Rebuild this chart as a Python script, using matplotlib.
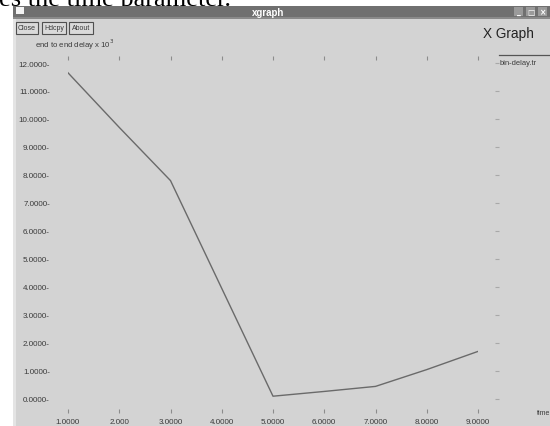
"""xgraph window: end to end delay over time for bin-delay.tr."""
import matplotlib
matplotlib.use('Agg')
import matplotlib.pyplot as plt
from matplotlib.patches import Rectangle

# delay trace (x 10^3) sampled once per time unit
time_s = [1, 2, 3, 4, 5, 6, 7, 8, 9]
delay = [11.65, 9.7, 7.8, 3.95, 0.1, 0.27, 0.45, 1.05, 1.7]

x_ticks = [1, 2, 3, 4, 5, 6, 7, 8, 9]
x_labels = ['1.0000', '2.000', '3.0000', '4.0000', '5.0000',
            '6.0000', '7.0000', '8.0000', '9.0000']
y_ticks = list(range(13))
y_labels = [f'{v:.4f}-' for v in y_ticks]

series_name = 'bin-delay.tr'
y_title = 'end to end delay x 10$^3$'
x_title = 'time'

W, H = 550, 427
WIN = '#d3d3d3'
INK = '#3a3a3a'
SANS = 'Liberation Sans'


def chrome(bg):
    """Window decorations drawn in pixel coordinates (y grows downward)."""
    # stray line of document text above the window
    bg.text(-1, 6, 'es the time parameter.', family='Liberation Serif', fontsize=19,
            color='black', ha='left', va='baseline', zorder=1)
    bg.add_patch(Rectangle((13, 7), W - 13, H, facecolor=WIN, edgecolor='none', zorder=2))
    bg.add_patch(Rectangle((13, 20), 2.5, H, facecolor='#e4e4e4', edgecolor='none', zorder=2))

    # title bar
    bg.add_patch(Rectangle((13, 7), W - 13, 13, facecolor='#707070', edgecolor='none', zorder=3))
    bg.add_patch(Rectangle((13, 17.5), W - 13, 2.5, facecolor='#8a8a8a', edgecolor='none', zorder=3))
    bg.add_patch(Rectangle((16, 7.5), 8, 7.5, facecolor='#f4f4f4', edgecolor='none', zorder=4))
    bg.text(268, 13.5, 'xgraph', family=SANS, fontsize=7, fontweight='bold',
            color='white', ha='center', va='center', zorder=4)
    for x0, glyph in [(514, '_'), (526, '□'), (538, '×')]:
        bg.add_patch(Rectangle((x0, 8), 9, 9, facecolor='#9a9a9a', edgecolor='none', zorder=4))
        bg.text(x0 + 4.5, 12.5, glyph, family='DejaVu Sans', fontsize=5.5, fontweight='bold',
                color='white', ha='center', va='center', zorder=5)

    # Close / Hdcpy / About buttons
    for x0, x1, label in [(16, 38, 'Close'), (42, 66, 'Hdcpy'), (69, 93, 'About')]:
        bg.add_patch(Rectangle((x0, 22.5), x1 - x0, 12.5, facecolor='#dadada',
                               edgecolor='#505050', linewidth=0.8, zorder=4))
        bg.text((x0 + x1) / 2, 29, label, family=SANS, fontsize=5, color=INK,
                ha='center', va='center', zorder=5)

    bg.text(483, 34, 'X Graph', family=SANS, fontsize=9.8, color='#222222',
            ha='left', va='center', zorder=4)
    bg.text(35, 45, y_title, family=SANS, fontsize=5.6, color=INK,
            ha='left', va='center', zorder=4)

    # legend entry
    bg.plot([499, W], [56, 56], color='#555555', linewidth=0.9, zorder=4)
    bg.text(500, 63.5, series_name, family=SANS, fontsize=5.4, color=INK,
            ha='left', va='center', zorder=4)
    bg.text(537, 414, x_title, family=SANS, fontsize=5, color=INK,
            ha='left', va='center', zorder=4)


def main():
    fig = plt.figure(figsize=(W / 100, H / 100), dpi=100)
    fig.patch.set_facecolor('white')

    bg = fig.add_axes([0, 0, 1, 1], zorder=0)
    bg.set_xlim(0, W)
    bg.set_ylim(H, 0)
    bg.axis('off')
    chrome(bg)

    # data area: x 1..9 -> px 68..478, y 0..12 -> px 400..64
    ax = fig.add_axes([68 / W, 27 / H, 410 / W, 336 / H], zorder=1)
    ax.set_facecolor('none')
    ax.plot(time_s, delay, color='#6a6a6a', linewidth=1.0, solid_joinstyle='round')
    ax.set_xlim(1, 9)
    ax.set_ylim(0, 12)

    for side in ('left', 'right', 'top', 'bottom'):
        ax.spines[side].set_visible(False)
    ax.spines['bottom'].set_position(('outward', 7.2))
    ax.spines['top'].set_position(('outward', 2.2))
    ax.spines['right'].set_position(('outward', 12.2))

    ax.tick_params(axis='both', labelsize=5.8, labelcolor=INK, labelfontfamily=SANS)
    ax.tick_params(axis='x', bottom=True, top=True, direction='out', length=2.6,
                   width=0.8, color='#8c8c8c', pad=4.0)
    ax.tick_params(axis='y', left=True, right=True, direction='out', length=3,
                   width=0.8, color='#a8a8a8', pad=10)

    ax.set_xticks(x_ticks, x_labels)
    ax.set_yticks(y_ticks, y_labels)
    for t in ax.yaxis.get_major_ticks():
        t.tick1line.set_visible(False)
    ax.yaxis.get_major_ticks()[0].tick2line.set_color('#f2f2f2')

    fig.savefig('out.png', dpi=100, facecolor=fig.get_facecolor())


if __name__ == '__main__':
    main()
